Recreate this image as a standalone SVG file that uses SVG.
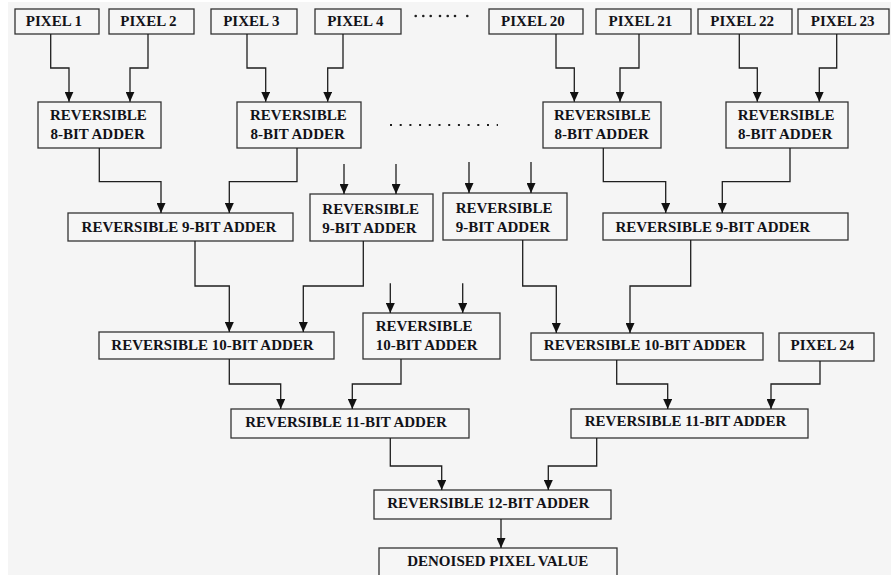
<svg xmlns="http://www.w3.org/2000/svg" width="891" height="575" viewBox="0 0 891 575">
<style>
.box{fill:#f6f6f6;stroke:#333;stroke-width:1.3}
.t{font-family:"Liberation Serif","Times New Roman",serif;font-weight:bold;font-size:15px;fill:#121218}
.c{text-anchor:middle}
.con{fill:none;stroke:#1e1e1e;stroke-width:1.3;marker-end:url(#ah)}
.dot{fill:#1e1e1e}
</style>
<defs>
<marker id="ah" markerUnits="userSpaceOnUse" markerWidth="10" markerHeight="9" refX="10" refY="4.5" orient="auto">
<path d="M0,0 L10,4.5 L0,9 z" fill="#111"/>
</marker>
</defs>
<rect x="0" y="0" width="891" height="575" fill="#ffffff"/>
<rect x="8" y="2" width="883" height="573" fill="#f5f5f5"/>

<g id="p1"><rect class="box" x="15" y="9" width="84" height="25"/><text class="t c" x="54" y="26">PIXEL 1</text></g>
<g id="p2"><rect class="box" x="109" y="9" width="85" height="25"/><text class="t c" x="148.5" y="26">PIXEL 2</text></g>
<g id="p3"><rect class="box" x="211" y="9" width="86" height="25"/><text class="t c" x="251.3" y="26">PIXEL 3</text></g>
<g id="p4"><rect class="box" x="315" y="9" width="86" height="25"/><text class="t c" x="355.3" y="26">PIXEL 4</text></g>
<g id="p20"><rect class="box" x="489" y="9" width="94" height="25"/><text class="t c" x="533" y="26">PIXEL 20</text></g>
<g id="p21"><rect class="box" x="596" y="9" width="95" height="25"/><text class="t c" x="640.5" y="26">PIXEL 21</text></g>
<g id="p22"><rect class="box" x="698" y="9" width="94" height="25"/><text class="t c" x="742.2" y="26">PIXEL 22</text></g>
<g id="p23"><rect class="box" x="798" y="9" width="91" height="25"/><text class="t c" x="842.7" y="26">PIXEL 23</text></g>

<g id="a8_1"><rect class="box" x="38" y="102" width="123" height="46"/><text class="t" x="50" y="120">REVERSIBLE</text><text class="t" x="50.5" y="139.3">8-BIT ADDER</text></g>
<g id="a8_2"><rect class="box" x="237" y="102" width="124" height="46"/><text class="t" x="250" y="120">REVERSIBLE</text><text class="t" x="250.5" y="139.3">8-BIT ADDER</text></g>
<g id="a8_3"><rect class="box" x="543" y="102" width="118" height="46"/><text class="t" x="554" y="120">REVERSIBLE</text><text class="t" x="554.5" y="139.3">8-BIT ADDER</text></g>
<g id="a8_4"><rect class="box" x="726" y="102" width="122" height="46"/><text class="t" x="737.7" y="120">REVERSIBLE</text><text class="t" x="738" y="139.3">8-BIT ADDER</text></g>

<g id="w9_1"><rect class="box" x="68" y="213" width="225" height="28"/><text class="t c" x="179" y="231.7">REVERSIBLE 9-BIT ADDER</text></g>
<g id="s9_1"><rect class="box" x="310" y="194" width="123" height="47"/><text class="t" x="322.3" y="213.5">REVERSIBLE</text><text class="t" x="322.3" y="232.5">9-BIT ADDER</text></g>
<g id="s9_2"><rect class="box" x="443" y="193" width="124" height="47"/><text class="t" x="455.7" y="212.7">REVERSIBLE</text><text class="t" x="455.7" y="231.7">9-BIT ADDER</text></g>
<g id="w9_2"><rect class="box" x="603" y="213" width="245" height="27"/><text class="t c" x="712.8" y="231.7">REVERSIBLE 9-BIT ADDER</text></g>

<g id="t10_1"><rect class="box" x="99" y="332" width="235" height="27"/><text class="t c" x="212.5" y="350">REVERSIBLE 10-BIT ADDER</text></g>
<g id="t10_s"><rect class="box" x="363" y="313" width="137" height="46"/><text class="t" x="375.7" y="331">REVERSIBLE</text><text class="t" x="375.7" y="350">10-BIT ADDER</text></g>
<g id="t10_2"><rect class="box" x="531" y="333" width="232" height="27"/><text class="t c" x="645" y="350">REVERSIBLE 10-BIT ADDER</text></g>
<g id="p24"><rect class="box" x="779" y="333" width="95" height="28"/><text class="t c" x="822.5" y="350">PIXEL 24</text></g>

<g id="e11_1"><rect class="box" x="231" y="409" width="238" height="29"/><text class="t c" x="346" y="426.7">REVERSIBLE 11-BIT ADDER</text></g>
<g id="e11_2"><rect class="box" x="571" y="409" width="237" height="29"/><text class="t c" x="685.5" y="426.3">REVERSIBLE 11-BIT ADDER</text></g>

<g id="a12"><rect class="box" x="374" y="490" width="237" height="29"/><text class="t c" x="488.3" y="508">REVERSIBLE 12-BIT ADDER</text></g>
<g id="out"><rect class="box" x="379" y="548" width="238" height="40"/><text class="t c" x="497.8" y="566">DENOISED PIXEL VALUE</text></g>

<g id="ellipses">
<circle class="dot" cx="415.7" cy="16" r="1.3"/><circle class="dot" cx="423.3" cy="16" r="1.3"/><circle class="dot" cx="430.7" cy="16" r="1.3"/><circle class="dot" cx="440" cy="16" r="1.3"/><circle class="dot" cx="447.7" cy="16" r="1.3"/><circle class="dot" cx="455" cy="16" r="1.3"/><circle class="dot" cx="467.3" cy="16" r="1.3"/>
<line x1="390" y1="125" x2="498" y2="125" stroke="#1e1e1e" stroke-width="2" stroke-dasharray="2 7.7"/>
</g>

<g id="connectors">
<path class="con" d="M50.7 34 V68 H69 V101.7"/>
<path class="con" d="M148 34 V68 H130 V101.7"/>
<path class="con" d="M247 34 V68 H265.7 V101.7"/>
<path class="con" d="M343 34 V68 H327.7 V101.7"/>
<path class="con" d="M556 34 V68 H574.3 V101.7"/>
<path class="con" d="M639 34 V68 H620 V101.7"/>
<path class="con" d="M739.3 34 V68 H757.3 V101.7"/>
<path class="con" d="M836.7 34 V68 H819.3 V101.7"/>
<path class="con" d="M99.3 148 V181.7 H161 V213"/>
<path class="con" d="M297 148 V181.7 H229.3 V213"/>
<path class="con" d="M603.3 148 V181.7 H665.7 V213"/>
<path class="con" d="M790 148 V181.7 H722.3 V213"/>
<path class="con" d="M344 164 V194"/>
<path class="con" d="M396 164 V194"/>
<path class="con" d="M469 162 V193"/>
<path class="con" d="M531 162 V193"/>
<path class="con" d="M195 241 V286 H229.3 V332"/>
<path class="con" d="M363.3 241 V286 H303.3 V332"/>
<path class="con" d="M522.7 240 V286 H556.3 V333"/>
<path class="con" d="M690.7 240 V286 H630 V333"/>
<path class="con" d="M390.3 283.3 V313"/>
<path class="con" d="M462.7 283.3 V313"/>
<path class="con" d="M229.3 359 V384 H280.7 V409"/>
<path class="con" d="M401 359 V384 H352.3 V409"/>
<path class="con" d="M616.7 360 V384 H667.7 V409"/>
<path class="con" d="M820 361 V384 H771 V409"/>
<path class="con" d="M390.3 438 V466 H441.7 V490"/>
<path class="con" d="M596.7 438 V466 H548.3 V490"/>
<path class="con" d="M501 519 V548"/>
</g>
</svg>
